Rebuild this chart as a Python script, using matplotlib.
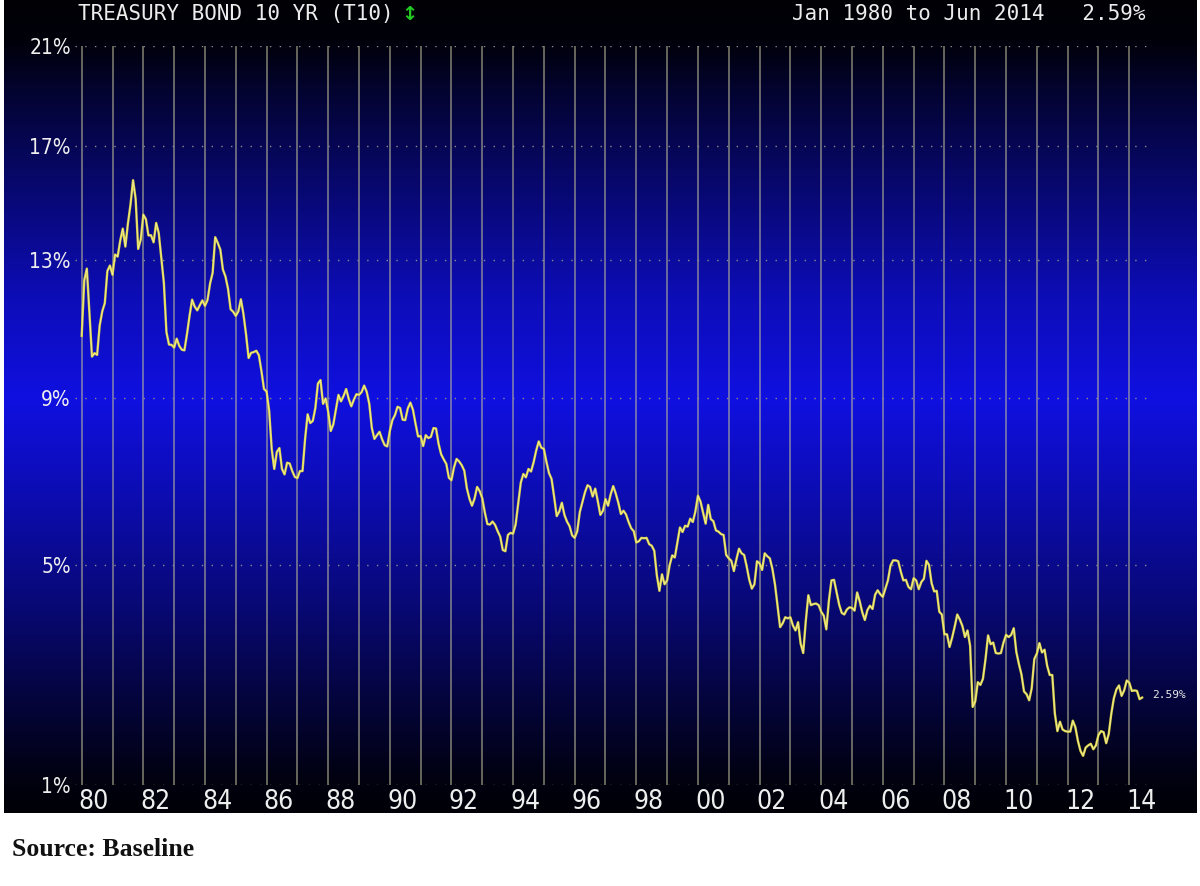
import matplotlib
matplotlib.use("Agg")
import matplotlib.pyplot as plt
import numpy as np
import pandas as pd

# monthly 10 yr treasury yield, Jan 1980 .. Jun 2014 (%)
t10_yield = [
    10.80, 12.41, 12.75, 11.47, 10.20, 10.30, 10.25, 11.10, 11.51, 11.75, 12.68, 12.84,  # 1980
    12.57, 13.19, 13.12, 13.68, 14.10, 13.47, 14.28, 14.94, 15.80, 15.15, 13.39, 13.72,  # 1981
    14.59, 14.43, 13.86, 13.87, 13.62, 14.30, 13.95, 13.06, 12.34, 10.91, 10.55, 10.54,  # 1982
    10.46, 10.72, 10.51, 10.40, 10.38, 10.85, 11.38, 11.85, 11.65, 11.54, 11.69, 11.83,  # 1983
    11.67, 11.84, 12.32, 12.63, 13.80, 13.60, 13.36, 12.72, 12.52, 12.16, 11.57, 11.50,  # 1984
    11.38, 11.51, 11.86, 11.43, 10.85, 10.16, 10.31, 10.33, 10.37, 10.24, 9.78, 9.26,    # 1985
    9.19, 8.70, 7.78, 7.30, 7.71, 7.80, 7.30, 7.17, 7.45, 7.43, 7.25, 7.11,              # 1986
    7.08, 7.25, 7.25, 8.02, 8.61, 8.40, 8.45, 8.76, 9.42, 9.52, 8.86, 8.99,              # 1987
    8.67, 8.21, 8.37, 8.72, 9.09, 8.92, 9.06, 9.26, 8.98, 8.80, 8.96, 9.11,              # 1988
    9.09, 9.17, 9.36, 9.18, 8.86, 8.28, 8.02, 8.11, 8.19, 8.01, 7.87, 7.84,              # 1989
    8.21, 8.47, 8.59, 8.79, 8.76, 8.48, 8.47, 8.75, 8.89, 8.72, 8.39, 8.08,              # 1990
    8.09, 7.85, 8.11, 8.04, 8.07, 8.28, 8.27, 7.90, 7.65, 7.53, 7.42, 7.09,              # 1991
    7.03, 7.34, 7.54, 7.48, 7.39, 7.26, 6.84, 6.59, 6.42, 6.59, 6.87, 6.77,              # 1992
    6.60, 6.26, 5.98, 5.97, 6.04, 5.96, 5.81, 5.68, 5.36, 5.33, 5.72, 5.77,              # 1993
    5.75, 5.97, 6.48, 6.97, 7.18, 7.10, 7.30, 7.24, 7.46, 7.74, 7.96, 7.81,              # 1994
    7.78, 7.47, 7.20, 7.06, 6.63, 6.17, 6.28, 6.49, 6.20, 6.04, 5.93, 5.71,              # 1995
    5.65, 5.81, 6.27, 6.51, 6.74, 6.91, 6.87, 6.64, 6.83, 6.53, 6.20, 6.30,              # 1996
    6.58, 6.42, 6.69, 6.89, 6.71, 6.49, 6.22, 6.30, 6.21, 6.03, 5.88, 5.81,              # 1997
    5.54, 5.57, 5.65, 5.64, 5.65, 5.50, 5.46, 5.34, 4.81, 4.53, 4.83, 4.65,              # 1998
    4.72, 5.00, 5.23, 5.18, 5.54, 5.90, 5.79, 5.94, 5.92, 6.11, 6.03, 6.28,              # 1999
    6.66, 6.52, 6.26, 5.99, 6.44, 6.10, 6.05, 5.83, 5.80, 5.74, 5.72, 5.24,              # 2000
    5.16, 5.10, 4.89, 5.14, 5.39, 5.28, 5.24, 4.97, 4.73, 4.57, 4.65, 5.09,              # 2001
    5.04, 4.91, 5.28, 5.21, 5.16, 4.93, 4.65, 4.26, 3.87, 3.94, 4.05, 4.03,              # 2002
    4.05, 3.90, 3.81, 3.96, 3.57, 3.40, 3.98, 4.45, 4.27, 4.29, 4.30, 4.27,              # 2003
    4.15, 4.08, 3.83, 4.35, 4.72, 4.73, 4.50, 4.28, 4.13, 4.10, 4.19, 4.23,              # 2004
    4.22, 4.17, 4.50, 4.34, 4.14, 4.00, 4.18, 4.26, 4.20, 4.46, 4.54, 4.47,              # 2005
    4.42, 4.57, 4.72, 4.99, 5.11, 5.11, 5.09, 4.88, 4.72, 4.73, 4.60, 4.56,              # 2006
    4.76, 4.72, 4.56, 4.69, 4.75, 5.10, 5.00, 4.67, 4.52, 4.53, 4.15, 4.10,              # 2007
    3.74, 3.74, 3.51, 3.68, 3.88, 4.10, 4.01, 3.89, 3.69, 3.81, 3.53, 2.42,              # 2008
    2.52, 2.87, 2.82, 2.93, 3.29, 3.72, 3.56, 3.59, 3.40, 3.39, 3.40, 3.59,              # 2009
    3.73, 3.69, 3.73, 3.85, 3.42, 3.20, 3.01, 2.70, 2.65, 2.54, 2.76, 3.29,              # 2010
    3.39, 3.58, 3.41, 3.46, 3.17, 3.00, 3.00, 2.30, 1.98, 2.15, 2.01, 1.98,              # 2011
    1.97, 1.97, 2.17, 2.05, 1.80, 1.62, 1.53, 1.68, 1.72, 1.75, 1.65, 1.72,              # 2012
    1.91, 1.98, 1.96, 1.76, 1.93, 2.30, 2.58, 2.74, 2.81, 2.62, 2.72, 2.90,              # 2013
    2.86, 2.71, 2.72, 2.71, 2.56, 2.59,                                                  # 2014
]
months = pd.date_range("1980-01-01", periods=len(t10_yield), freq="MS")
xdates = months.year + (months.month - 1) / 12.0

y_ticks = [1, 5, 9, 13, 17, 21]
y_ticklabels = ["1%", "5%", "9%", "13%", "17%", "21%"]
grid_years = list(range(1980, 2015))
label_years = list(range(1980, 2015, 2))
x_ticklabels = ["%02d" % (yr % 100) for yr in label_years]

# the terminal's y axis is squeezed at the top, map it piecewise
knot_pix = [0, 220, 387, 525, 639, 739]
def fwd(v):
    return np.interp(v, y_ticks, knot_pix)
def inv(p):
    return np.interp(p, knot_pix, y_ticks)

W, H = 1200, 886
fig = plt.figure(figsize=(12, 8.86), dpi=100, facecolor="white")

# black-blue-black background
bg = fig.add_axes([4 / W, 1 - 813 / H, 1193 / W, 813 / H])
stop_y = [0, 40, 100, 200, 300, 398, 500, 600, 700, 780, 813]
stop_b = [5, 10, 55, 120, 185, 225, 175, 120, 60, 16, 6]
py = np.arange(0, 813)
b = np.interp(py, stop_y, stop_b) / 255.0
grad = np.stack([b * 0.07, b * 0.07, b], axis=1)[:, None, :]
bg.imshow(grad, aspect="auto", extent=[0, 1, 0, 1], interpolation="bilinear")
bg.axis("off")

ax = fig.add_axes([75 / W, 1 - 785 / H, (1150 - 75) / W, (785 - 46) / H])
ax.patch.set_alpha(0)
ax.set_yscale("function", functions=(fwd, inv))
ax.set_ylim(1, 21)
ax.set_xlim(1980 - 6.7 / 30.81, 2014 + 20.7 / 30.81)

for yr in grid_years:
    ax.axvline(yr, color="#b8b898", lw=1.1, alpha=0.7, zorder=1)
for v in y_ticks:
    ax.axhline(v, color="#8c8c8c", lw=1.0, ls=(0, (1, 6)), zorder=1)

ax.plot(xdates, t10_yield, color="#d8d040", lw=1.7, zorder=3)
ax.plot(xdates, t10_yield, color="#f4f0b0", lw=0.5, zorder=4)

ax.annotate("%.2f%%" % t10_yield[-1], xy=(xdates[-1], t10_yield[-1]), xytext=(7, 2),
            textcoords="offset points", color="#e8e8e8", fontsize=8,
            family="DejaVu Sans Mono", va="center", ha="left")

for s in ax.spines.values():
    s.set_visible(False)
ax.set_yticks(y_ticks)
ax.set_yticklabels(y_ticklabels)
ax.yaxis.set_minor_locator(matplotlib.ticker.NullLocator())
ax.set_xticks([yr + 0.4 for yr in label_years])
ax.set_xticklabels(x_ticklabels)
ax.tick_params(axis="both", length=0, colors="#eeeeee")
ax.tick_params(axis="y", pad=3, labelsize=15)
ax.tick_params(axis="x", pad=3, labelsize=19)
for lab in ax.get_xticklabels() + ax.get_yticklabels():
    lab.set_family("DejaVu Sans")
    lab.set_stretch("condensed")

fig.text(78 / W, 1 - 14 / H, "TREASURY BOND 10 YR (T10)", family="DejaVu Sans Mono",
         fontsize=15, color="#ececec", va="center", ha="left")
fig.text(401 / W, 1 - 14 / H, "\u2195", family="DejaVu Sans", fontsize=14,
         color="#22cc22", va="center", ha="left", weight="bold")
fig.text(1145 / W, 1 - 14 / H, "Jan 1980 to Jun 2014   2.59%", family="DejaVu Sans Mono",
         fontsize=15, color="#ececec", va="center", ha="right")
fig.text(12 / W, 1 - 850 / H, "Source: Baseline", family="Liberation Serif",
         weight="bold", fontsize=18.5, color="#111111", va="center", ha="left")

fig.savefig("out.png", dpi=100, facecolor="white")
